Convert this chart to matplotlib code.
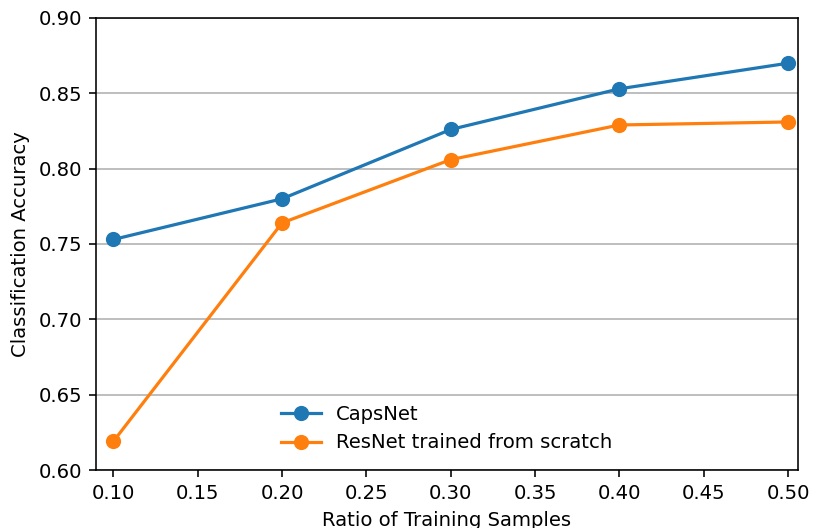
import matplotlib
matplotlib.use("Agg")
import matplotlib.pyplot as plt

ratios = [0.10, 0.20, 0.30, 0.40, 0.50]
capsnet = [0.753, 0.780, 0.826, 0.853, 0.870]
resnet = [0.619, 0.764, 0.806, 0.829, 0.831]
series_labels = ["CapsNet", "ResNet trained from scratch"]
xticks = [0.10, 0.15, 0.20, 0.25, 0.30, 0.35, 0.40, 0.45, 0.50]
yticks = [0.60, 0.65, 0.70, 0.75, 0.80, 0.85, 0.90]

plt.rcParams['font.family'] = ['DejaVu Sans']
plt.rcParams['font.size'] = 9.8

fig = plt.figure(figsize=(813/144, 528/144), dpi=144)
ax = fig.add_axes([96/813, 1-470/528, (798-96)/813, (470-18)/528])

ax.plot(ratios, capsnet, '-o', color='#1f77b4', lw=1.6, ms=6.6, label=series_labels[0])
ax.plot(ratios, resnet, '-o', color='#ff7f0e', lw=1.6, ms=6.6, label=series_labels[1])

ax.set_xlim(0.0897, 0.5059)
ax.set_ylim(0.60, 0.90)
ax.set_xticks(xticks)
ax.set_xticklabels([f"{t:.2f}" for t in xticks])
ax.set_yticks(yticks)
ax.set_yticklabels([f"{t:.2f}" for t in yticks])
ax.yaxis.grid(True, color='#b0b0b0', lw=0.8)
ax.set_axisbelow(True)
ax.set_xlabel("Ratio of Training Samples")
ax.set_ylabel("Classification Accuracy")
ax.legend(loc='lower center', frameon=False)

fig.savefig("out.png", dpi=144)
